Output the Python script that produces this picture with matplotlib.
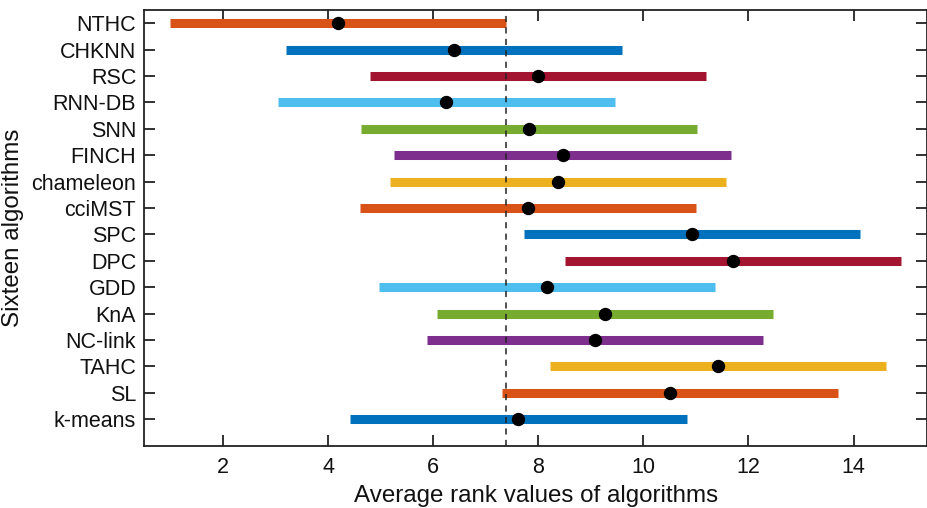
import matplotlib
matplotlib.use("Agg")
import matplotlib.pyplot as plt

plt.rcParams['font.family'] = ['Liberation Sans', 'DejaVu Sans']

# Algorithms listed from bottom (position 1) to top (position 16)
algorithms = ["k-means", "SL", "TAHC", "NC-link", "KnA", "GDD", "DPC", "SPC",
              "cciMST", "chameleon", "FINCH", "SNN", "RNN-DB", "RSC", "CHKNN", "NTHC"]
mean_rank = [7.62, 10.50, 11.42, 9.08, 9.26, 8.17, 11.70, 10.92,
             7.81, 8.38, 8.46, 7.82, 6.25, 8.00, 6.39, 4.19]
lower = [4.42, 7.30, 8.22, 5.88, 6.06, 4.97, 8.50, 7.72,
         4.61, 5.18, 5.26, 4.62, 3.05, 4.80, 3.19, 0.99]
upper = [10.82, 13.70, 14.62, 12.28, 12.46, 11.37, 14.90, 14.12,
         11.01, 11.58, 11.66, 11.02, 9.45, 11.20, 9.59, 7.39]
reference_line = 7.39

colors_cycle = ["#0072BD", "#D95319", "#EDB120", "#7E2F8E",
                "#77AC30", "#4DBEEE", "#A2142F"]

fig = plt.figure(figsize=(9.28, 5.08), dpi=100)
ax = fig.add_axes([0.1557, 0.1226, 0.8433, 0.8577])

positions = list(range(1, len(algorithms) + 1))
for i, (p, lo, hi, m) in enumerate(zip(positions, lower, upper, mean_rank)):
    ax.plot([lo, hi], [p, p], color=colors_cycle[i % 7], linewidth=6.5,
            solid_capstyle='butt', zorder=2)
    ax.plot([m], [p], 'o', color='black', markersize=8.6, zorder=3)

ax.axvline(reference_line, color='#222222', linestyle=(0, (4, 3.5)),
           linewidth=1.1, zorder=4)

ax.set_xlim(0.5, 15.4)
ax.set_ylim(0, 16.5)
ax.set_xticks([2, 4, 6, 8, 10, 12, 14])
ax.set_yticks(positions)
ax.set_yticklabels(algorithms)

ax.tick_params(direction='in', length=8, width=1.3, labelsize=15.5,
               top=True, right=True, pad=6, colors='#222222', labelcolor='#111111')
ax.tick_params(axis='x', pad=8)
for s in ax.spines.values():
    s.set_linewidth(1.3)
    s.set_color('#222222')

ax.set_xlabel("Average rank values of algorithms", fontsize=17.4, labelpad=5,
              color='#111111')
ax.set_ylabel("Sixteen algorithms", fontsize=17.4, labelpad=5, color='#111111')

fig.savefig("out.png", dpi=100)
